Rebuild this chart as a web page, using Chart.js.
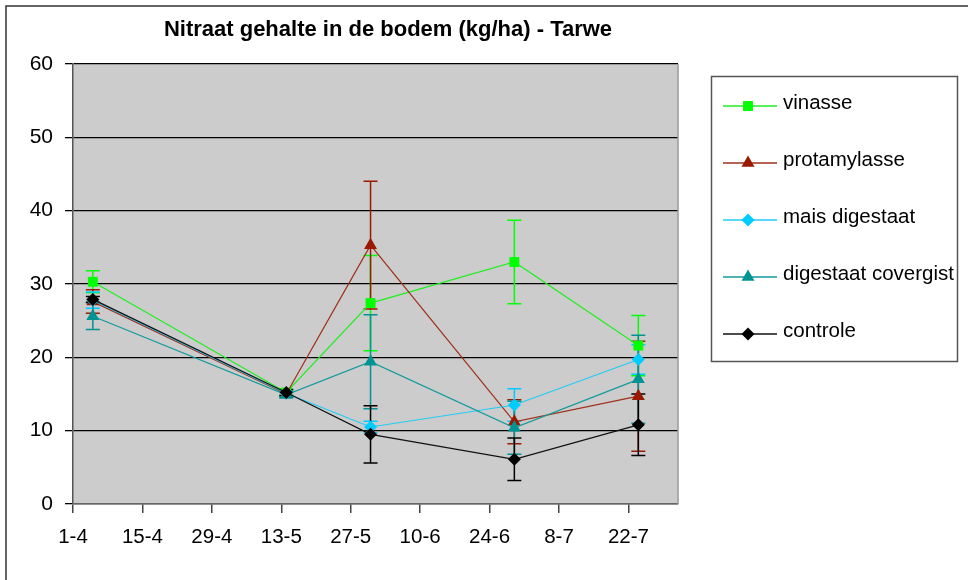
<!DOCTYPE html>
<html>
<head>
<meta charset="utf-8">
<title>Nitraat gehalte in de bodem - Tarwe</title>
<script src="https://cdn.jsdelivr.net/npm/chart.js@4.4.0/dist/chart.umd.min.js"></script>
<style>
  html, body { margin: 0; padding: 0; background: #fff; }
  #wrap { width: 968px; height: 580px; position: relative; }
</style>
</head>
<body>
<div id="wrap"><canvas id="nitraat"></canvas></div>
<script>
// sample dates, counted in days after 1-4 (5-4, 14-5, 31-5, 29-6, 24-7)
const sampleDays = [4, 43, 60, 89, 114];
const xTickDays = [0, 14, 28, 42, 56, 70, 84, 98, 112];
const xTickLabels = ['1-4', '15-4', '29-4', '13-5', '27-5', '10-6', '24-6', '8-7', '22-7'];
const yTicks = [0, 10, 20, 30, 40, 50, 60];

const seriesNames = ['vinasse', 'protamylasse', 'mais digestaat', 'digestaat covergist', 'controle'];

const vinasse = [30.3, 15.2, 27.4, 33.0, 21.6];
const vinasseErr = [1.5, 0.4, 6.5, 5.7, 4.1];
const protamylasse = [27.6, 15.0, 35.3, 11.2, 14.7];
const protamylasseErr = [1.6, 0.4, 8.7, 3.0, 7.5];
const maisDigestaat = [27.8, 15.1, 10.5, 13.5, 19.7];
const maisDigestaatErr = [1.1, 0.4, 0.8, 2.2, 2.0];
const digestaatCovergist = [25.6, 14.9, 19.4, 10.4, 17.0];
const digestaatCovergistErr = [1.8, 0.4, 6.4, 3.6, 6.0];
const controle = [27.9, 15.2, 9.5, 6.1, 10.8];
const controleErr = [0.4, 0.4, 3.9, 2.9, 4.2];

const FONT = "'Liberation Sans', Arial, sans-serif";

function pts(vals) {
  return vals.map((v, i) => ({ x: sampleDays[i], y: v }));
}

function makeSet(idx, vals, errs, color, lineColor, style, radius) {
  return {
    label: seriesNames[idx],
    data: pts(vals),
    errors: errs,
    borderColor: lineColor,
    backgroundColor: color,
    borderWidth: 1.2,
    pointStyle: style,
    pointRadius: radius,
    pointHoverRadius: radius,
    pointBackgroundColor: color,
    pointBorderColor: color,
    pointBorderWidth: 0,
    tension: 0,
    fill: false,
    order: 4 - idx
  };
}

const datasets = [
  makeSet(0, vinasse, vinasseErr, '#00ff00', '#22ee22', 'rect', 7),
  makeSet(1, protamylasse, protamylasseErr, '#991a00', '#a0301c', 'triangle', 7.5),
  makeSet(2, maisDigestaat, maisDigestaatErr, '#00ccff', '#22ccf4', 'rectRot', 6.5),
  makeSet(3, digestaatCovergist, digestaatCovergistErr, '#009393', '#159a9a', 'triangle', 7.5),
  makeSet(4, controle, controleErr, '#000000', '#111111', 'rectRot', 6.5)
];

// grey plot area, outer frame, plot right border, title
const backgroundPlugin = {
  id: 'plotBackground',
  beforeDraw(chart) {
    const { ctx, chartArea: a } = chart;
    ctx.save();
    ctx.fillStyle = '#cccccc';
    ctx.fillRect(a.left, a.top, a.right - a.left, a.bottom - a.top);
    ctx.strokeStyle = '#333333';
    ctx.lineWidth = 1.5;
    ctx.beginPath();
    ctx.moveTo(6, chart.height + 5);
    ctx.lineTo(6, 6);
    ctx.lineTo(chart.width + 5, 6);
    ctx.stroke();
    ctx.restore();
  },
  afterDraw(chart) {
    const { ctx, chartArea: a } = chart;
    ctx.save();
    ctx.strokeStyle = '#9a9a9a';
    ctx.lineWidth = 1.5;
    ctx.beginPath();
    ctx.moveTo(a.right, a.top);
    ctx.lineTo(a.right, a.bottom);
    ctx.stroke();
    ctx.fillStyle = '#000';
    ctx.font = 'bold 22px ' + FONT;
    ctx.textAlign = 'center';
    ctx.textBaseline = 'alphabetic';
    ctx.fillText('Nitraat gehalte in de bodem (kg/ha) - Tarwe', 388, 36);
    ctx.restore();
  }
};

// error bars, read from dataset.errors, placed via the chart's scales
const errorBarPlugin = {
  id: 'errorBars',
  beforeDatasetsDraw(chart) {
    const { ctx } = chart;
    const yScale = chart.scales.y;
    ctx.save();
    chart.data.datasets.forEach((ds, i) => {
      const meta = chart.getDatasetMeta(i);
      ctx.strokeStyle = ds.pointBackgroundColor;
      ctx.lineWidth = 1.5;
      ds.data.forEach((p, j) => {
        const e = ds.errors[j];
        const x = meta.data[j].x;
        const yTop = yScale.getPixelForValue(p.y + e);
        const yBot = yScale.getPixelForValue(p.y - e);
        ctx.beginPath();
        ctx.moveTo(x, yTop);
        ctx.lineTo(x, yBot);
        ctx.moveTo(x - 7, yTop);
        ctx.lineTo(x + 7, yTop);
        ctx.moveTo(x - 7, yBot);
        ctx.lineTo(x + 7, yBot);
        ctx.stroke();
      });
    });
    ctx.restore();
  }
};

function drawMarker(ctx, style, x, y, r, color) {
  ctx.fillStyle = color;
  ctx.beginPath();
  if (style === 'rect') {
    const s = r * Math.SQRT1_2;
    ctx.rect(x - s, y - s, 2 * s, 2 * s);
  } else if (style === 'triangle') {
    ctx.moveTo(x, y - r);
    ctx.lineTo(x + r * 0.866, y + r * 0.5);
    ctx.lineTo(x - r * 0.866, y + r * 0.5);
    ctx.closePath();
  } else {
    ctx.moveTo(x, y - r);
    ctx.lineTo(x + r, y);
    ctx.lineTo(x, y + r);
    ctx.lineTo(x - r, y);
    ctx.closePath();
  }
  ctx.fill();
}

// boxed legend on the right, like the original
const legendPlugin = {
  id: 'boxLegend',
  afterDraw(chart) {
    const { ctx } = chart;
    ctx.save();
    ctx.strokeStyle = '#555555';
    ctx.lineWidth = 1.5;
    ctx.strokeRect(711.5, 76.5, 246, 285);
    ctx.font = '20.5px ' + FONT;
    ctx.textAlign = 'left';
    ctx.textBaseline = 'middle';
    chart.data.datasets.forEach((ds, i) => {
      const y = 106 + i * 57;
      ctx.strokeStyle = ds.borderColor;
      ctx.lineWidth = 1.5;
      ctx.beginPath();
      ctx.moveTo(723, y);
      ctx.lineTo(777, y);
      ctx.stroke();
      drawMarker(ctx, ds.pointStyle, 748, y, ds.pointRadius, ds.pointBackgroundColor);
      ctx.fillStyle = '#000';
      ctx.fillText(ds.label, 783, y - 3);
    });
    ctx.restore();
  }
};

const ctx = document.getElementById('nitraat').getContext('2d');
new Chart(ctx, {
  type: 'line',
  data: { datasets: datasets },
  plugins: [backgroundPlugin, errorBarPlugin, legendPlugin],
  options: {
    responsive: true,
    maintainAspectRatio: false,
    animation: false,
    layout: { padding: { left: 0, top: 64, right: 290, bottom: 0 } },
    plugins: {
      legend: { display: false },
      title: { display: false },
      tooltip: { enabled: false }
    },
    scales: {
      x: {
        type: 'linear',
        min: 0,
        max: 122,
        afterBuildTicks(scale) {
          scale.ticks = xTickDays.map(v => ({ value: v }));
        },
        afterFit(scale) { scale.height = 76; },
        ticks: {
          autoSkip: false,
          maxRotation: 0,
          padding: 12,
          color: '#000',
          font: { family: FONT, size: 20.5 },
          callback: (v, i) => xTickLabels[i]
        },
        grid: { drawOnChartArea: false, drawTicks: true, tickLength: 9, color: '#444', lineWidth: 1.5 },
        border: { display: true, color: '#666', width: 1.5 }
      },
      y: {
        min: 0,
        max: 60,
        afterBuildTicks(scale) {
          scale.ticks = yTicks.map(v => ({ value: v }));
        },
        afterFit(scale) { scale.width = 73; },
        ticks: {
          padding: 12,
          color: '#000',
          font: { family: FONT, size: 21 }
        },
        grid: { color: '#000', lineWidth: 1.3, tickLength: 8 },
        border: { display: true, color: '#555', width: 1.5 }
      }
    }
  }
});
</script>
</body>
</html>
